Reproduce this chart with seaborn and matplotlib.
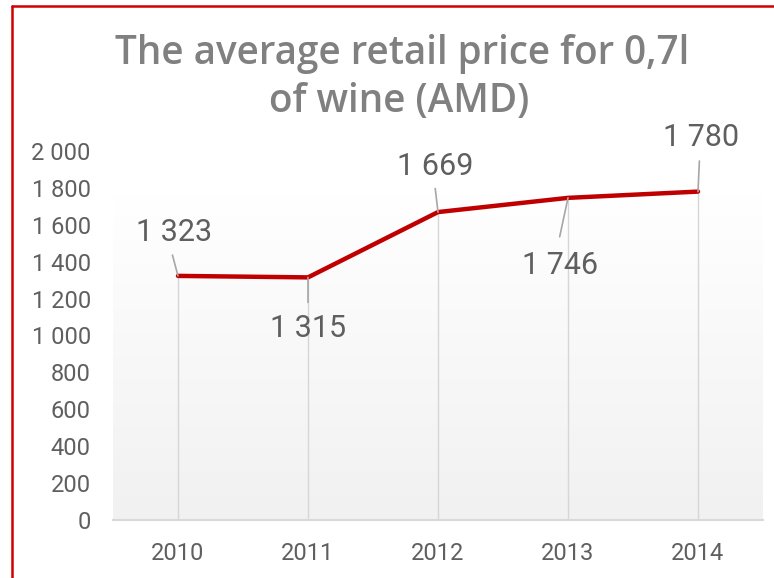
import numpy as np
import pandas as pd
import matplotlib
matplotlib.use("Agg")
import matplotlib.pyplot as plt
from matplotlib.lines import Line2D
import seaborn as sns

# Average retail price of a 0.7 l bottle of wine, AMD
years = ["2010", "2011", "2012", "2013", "2014"]
prices = [1323, 1315, 1669, 1746, 1780]
price_labels = ["1 323", "1 315", "1 669", "1 746", "1 780"]
y_ticks = [0, 200, 400, 600, 800, 1000, 1200, 1400, 1600, 1800, 2000]
y_tick_labels = ["0", "200", "400", "600", "800", "1 000", "1 200",
                 "1 400", "1 600", "1 800", "2 000"]
title_lines = ["The average retail price for 0,7l", "of wine (AMD)"]

# label offsets (in points) relative to each data point, and leader-line ends
label_offsets = [(-3, 31), (0, -37), (-2, 33), (-6, -49), (2, 39)]
leader_starts = [(-4, 15), (0, -18), (-2, 17), (-6, -28), (1, 22)]

df = pd.DataFrame({"year": years, "price": prices})

sns.set_theme(style="white")
plt.rcParams["font.family"] = ["Roboto", "DejaVu Sans"]

W, H = 774, 578
fig = plt.figure(figsize=(W / 100, H / 100), dpi=100)
ax = fig.add_axes([113 / W, (H - 520) / H, 650 / W, 369 / H])

# soft vertical gradient behind the plot
grad = np.linspace(0.945, 1.0, 256).reshape(-1, 1)
grad_rgb = np.dstack([grad, grad, grad])
ax.imshow(grad_rgb, extent=(0, 1, 0, 0.886), transform=ax.transAxes,
          aspect="auto", origin="lower", zorder=0)

sns.lineplot(data=df, x="year", y="price", ax=ax, color="#c00000",
             linewidth=3.2, zorder=4, sort=False)

# drop lines from each point to the axis
for i, v in enumerate(prices):
    ax.plot([i, i], [0, v], color="#d6d6d6", linewidth=1.0, zorder=2)

ax.set_xlim(-0.5, 4.5)
ax.set_ylim(0, 2000)
ax.set_yticks(y_ticks)
ax.set_yticklabels(y_tick_labels)
ax.set_xlabel("")
ax.set_ylabel("")
ax.tick_params(axis="both", length=0, labelsize=17, colors="#5f5f5f")
ax.tick_params(axis="y", pad=16)
ax.tick_params(axis="x", pad=16)

for side in ["top", "right", "left"]:
    ax.spines[side].set_visible(False)
ax.spines["bottom"].set_color("#d9d9d9")
ax.spines["bottom"].set_linewidth(1.5)
ax.set_facecolor("none")
ax.patch.set_alpha(0)

# value labels with leader lines
for i, (v, lab) in enumerate(zip(prices, price_labels)):
    dx, dy = label_offsets[i]
    ax.annotate(lab, xy=(i, v), xytext=(dx, dy), textcoords="offset points",
                ha="center", va="center", fontsize=22, color="#5f5f5f",
                zorder=6)
    sx, sy = leader_starts[i]
    ax.annotate("", xy=(i, v), xytext=(sx, sy), textcoords="offset points",
                arrowprops=dict(arrowstyle="-", color="#a6a6a6", lw=1.2,
                                shrinkA=0, shrinkB=0), zorder=5)

# title, two centred lines
title_style = dict(ha="center", va="baseline", fontsize=27.8,
                   fontweight="semibold", color="#808080",
                   family=["Open Sans", "DejaVu Sans"])
fig.text(402 / W, 1 - 64 / H, title_lines[0], **title_style)
fig.text(399 / W, 1 - 112 / H, title_lines[1], **title_style)

# red frame along the left and top edges
fig.add_artist(Line2D([12 / W, 12 / W], [0, 1 - 6 / H], color="#d00000",
                      linewidth=1.8, transform=fig.transFigure))
fig.add_artist(Line2D([12 / W, 1], [1 - 6 / H, 1 - 6 / H], color="#d00000",
                      linewidth=1.8, transform=fig.transFigure))

fig.savefig("out.png", dpi=100, facecolor="white")
